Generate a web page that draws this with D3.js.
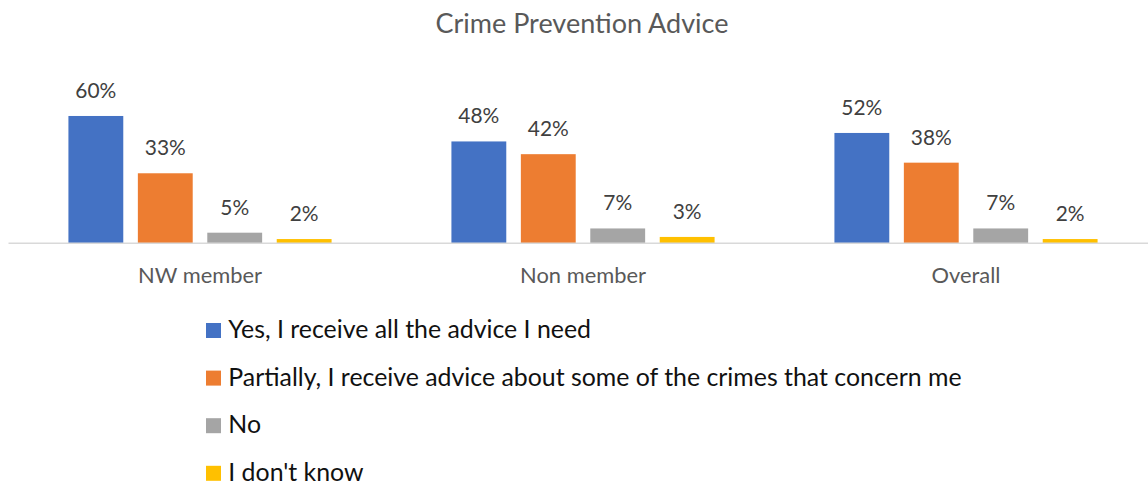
<!DOCTYPE html>
<html>
<head>
<meta charset="utf-8">
<script src="https://cdn.jsdelivr.net/npm/d3@7"></script>
<style>
  html, body { margin: 0; padding: 0; background: #fff; }
  svg { display: block; font-family: Lato, "Open Sans", sans-serif; }
</style>
</head>
<body>
<svg id="chart" width="1148" height="486"></svg>
<script>
// Survey results: share of respondents per answer, by group
const categories = ["NW member", "Non member", "Overall"];
const seriesNames = [
  "Yes, I receive all the advice I need",
  "Partially, I receive advice about some of the crimes that concern me",
  "No",
  "I don't know"
];
const yesValues       = [60, 48, 52];
const partialValues   = [33, 42, 38];
const noValues        = [5, 7, 7];
const dontKnowValues  = [2, 3, 2];
const seriesColors = ["#4472C4", "#ED7D31", "#A5A5A5", "#FFC000"];

const seriesValues = [yesValues, partialValues, noValues, dontKnowValues];
const rows = categories.map((c, ci) => ({
  category: c,
  values: seriesNames.map((s, si) => ({ series: s, si, value: seriesValues[si][ci] }))
}));

const svg = d3.select("#chart");

// Scale a text element's font size so its rendered width hits a target
function fitFont(sel, target) {
  const fs = parseFloat(sel.attr("font-size"));
  const w = sel.node().getComputedTextLength();
  const size = fs * target / w;
  sel.attr("font-size", size);
  return size;
}

const baseY = 243.3;
const y = d3.scaleLinear().domain([0, 70]).range([baseY, baseY - 70 * 2.122]);
const x0 = d3.scaleBand().domain(categories).range([8.5, 1157.5]).paddingInner(0).paddingOuter(0);
const x1 = d3.scaleBand().domain(seriesNames).range([0, x0.bandwidth()])
  .paddingInner(0.21).paddingOuter(0.863);

// Title
const title = svg.append("text")
  .attr("x", 582).attr("y", 32.5)
  .attr("text-anchor", "middle")
  .attr("fill", "#595959")
  .attr("font-size", 24)
  .text("Crime Prevention Advice");
fitFont(title, 293);

// Bars
const groups = svg.append("g").selectAll("g")
  .data(rows).join("g")
  .attr("transform", d => `translate(${x0(d.category)},0)`);

groups.selectAll("rect")
  .data(d => d.values).join("rect")
  .attr("x", d => x1(d.series))
  .attr("width", x1.bandwidth())
  .attr("y", d => y(d.value))
  .attr("height", d => y(0) - y(d.value))
  .attr("fill", d => seriesColors[d.si]);

// Value labels
const labels = groups.selectAll("text.val")
  .data(d => d.values).join("text")
  .attr("class", "val")
  .attr("x", d => x1(d.series) + x1.bandwidth() / 2)
  .attr("y", d => y(d.value) - 18)
  .attr("text-anchor", "middle")
  .attr("fill", "#404040")
  .attr("font-size", 20)
  .text(d => d.value + "%");
const valSize = fitFont(d3.select(labels.nodes()[0]), 41);
labels.attr("font-size", valSize);

// Category axis
const axis = svg.append("g").attr("transform", `translate(0,${baseY})`)
  .call(d3.axisBottom(x0).tickSize(0).tickPadding(0));
axis.select(".domain").attr("stroke", "#d9d9d9").attr("stroke-width", 1.5)
  .attr("d", "M8.5,0H1148");
const catText = axis.selectAll(".tick text")
  .attr("y", 283.3 - baseY).attr("dy", null)
  .attr("fill", "#595959")
  .attr("font-family", "Lato, 'Open Sans', sans-serif")
  .attr("font-size", 20);
const catSize = fitFont(d3.select(catText.nodes()[0]), 124);
catText.attr("font-size", catSize);

// Legend
const legend = svg.append("g").attr("transform", "translate(206,323)");
const items = legend.selectAll("g")
  .data(seriesNames).join("g")
  .attr("transform", (d, i) => `translate(0,${i * 47.6})`);
items.append("rect")
  .attr("width", 15).attr("height", 15)
  .attr("fill", (d, i) => seriesColors[i]);
const legText = items.append("text")
  .attr("x", 22.3).attr("y", 15)
  .attr("fill", "#111")
  .attr("font-size", 24)
  .text(d => d);
const legSize = fitFont(d3.select(legText.nodes()[1]), 733.4);
legText.attr("font-size", legSize);
</script>
</body>
</html>
